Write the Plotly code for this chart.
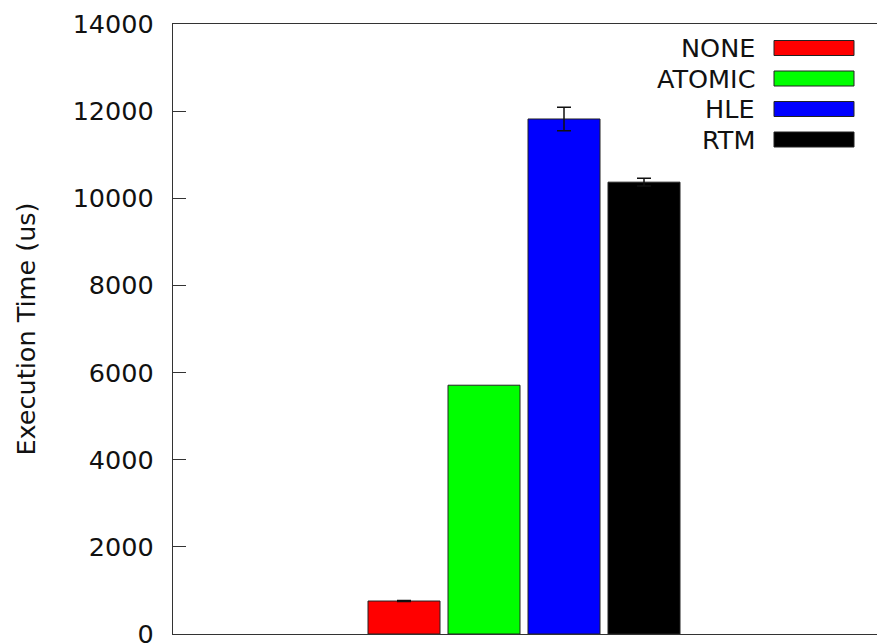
import plotly.graph_objects as go

series = ["NONE", "ATOMIC", "HLE", "RTM"]
cluster = ["run"]
times = [757, 5710, 11820, 10370]
errors = [10, 0, 270, 90]
colors = ["#ff0000", "#00ff00", "#0000ff", "#000000"]
y_ticks = [0, 2000, 4000, 6000, 8000, 10000, 12000, 14000]

FONT = "DejaVu Sans"
FS = 25.5
W, H = 877, 644
# plot area in window pixels: left 173, top 24, bottom 634, right beyond window edge
ML, MT, MB, MR = 173, 24, H - 634, 0

fig = go.Figure()
for name, t, e, c in zip(series, times, errors, colors):
    fig.add_trace(go.Bar(
        x=cluster, y=[t], name=name,
        marker=dict(color=c, line=dict(color="#222222", width=1)),
        error_y=dict(type="data", array=[e], visible=e > 0, color="#111111",
                     thickness=1.5, width=7),
        showlegend=False,
    ))

pw = W - ML - MR
ph = H - MT - MB

# group center at window pixel 524
P = 400.0
cx = 524
x0 = -(cx - ML) / P
x1 = (W - MR - cx) / P

fig.update_layout(
    width=W, height=H,
    margin=dict(l=ML, r=MR, t=MT, b=MB),
    paper_bgcolor="white", plot_bgcolor="white",
    barmode="group", bargap=0.2, bargroupgap=0.1,
    font=dict(family=FONT, size=FS, color="#111111"),
    xaxis=dict(type="category", range=[x0, x1], showline=True, mirror=True,
               linecolor="#333333", linewidth=1.3, ticks="", showticklabels=False,
               showgrid=False, zeroline=False, automargin=False),
    xaxis2=dict(overlaying="x", type="linear", range=[0, 1], side="top",
                tickmode="array", tickvals=[(484 - ML) / pw],
                ticks="inside", ticklen=11, tickcolor="#222222", tickwidth=1.6,
                showticklabels=False, showgrid=False, zeroline=False, showline=False,
                automargin=False),
    yaxis=dict(range=[0, 14000], tickmode="array", tickvals=y_ticks,
               tickformat="d", ticklabeloverflow="allow", automargin=False,
               ticks="inside", ticklen=13, tickcolor="#333333", tickwidth=1.3,
               ticklabelstandoff=13,
               showline=True, linecolor="#333333", linewidth=1.3,
               showgrid=False, zeroline=False,
               tickfont=dict(family=FONT, size=FS, color="#111111"),
               title=dict(text="Execution Time (us)", standoff=29,
                          font=dict(family=FONT, size=FS, color="#111111"))),
    yaxis2=dict(overlaying="y", side="right", range=[0, 14000], tickmode="array",
                tickvals=y_ticks, ticks="inside", ticklen=3, tickcolor="#333333",
                tickwidth=1.3, showticklabels=False, showgrid=False,
                zeroline=False, showline=False, automargin=False),
)

# gnuplot-style key: right-aligned label, then swatch (window pixel coords)
def px(x):
    return (x - ML) / pw
def py(y):
    return 1 - (y - MT) / ph

row_y = [48, 78.5, 109, 139.5]
for name, c, ry in zip(series, colors, row_y):
    fig.add_annotation(x=px(757), y=py(ry), xref="paper", yref="paper",
                       text=name, showarrow=False, xanchor="right", yanchor="middle",
                       font=dict(family=FONT, size=FS, color="#111111"))
    fig.add_shape(type="rect", xref="paper", yref="paper",
                  x0=px(774), x1=px(854), y0=py(ry - 7.5), y1=py(ry + 7.5),
                  fillcolor=c, line=dict(color="#222222", width=1))

fig.write_html("out.html", config={"displayModeBar": False},
               post_script="document.body.style.margin='0';document.body.style.overflow='hidden';")
